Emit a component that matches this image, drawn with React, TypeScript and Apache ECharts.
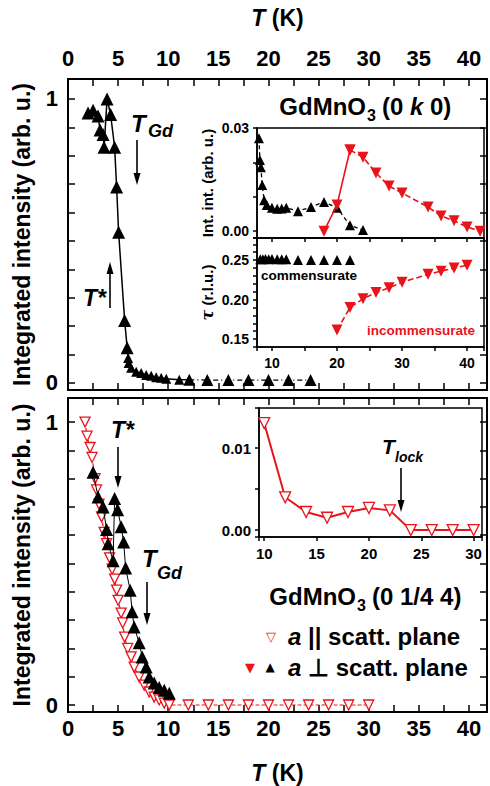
import React, { useEffect, useRef } from 'react';
import * as echarts from 'echarts';

const RED = '#e8141c';
const BLACK = '#000000';
const FONT = '"Liberation Sans", Arial, Helvetica, sans-serif';

// ---------- top panel: GdMnO3 (0 k 0), main plot ----------
const topMainT = [2.0, 2.5, 3.0, 3.2, 3.5, 3.6, 3.9, 4.25, 4.65, 4.85, 5.05, 5.65, 5.9, 6.0, 6.05, 6.3, 6.8, 7.3, 7.8, 8.3, 8.8, 9.3, 9.8, 11.1, 12.1];
const topMainI = [0.95, 0.96, 0.94, 0.89, 0.875, 0.83, 1.0, 0.945, 0.83, 0.69, 0.53, 0.22, 0.124, 0.088, 0.07, 0.053, 0.039, 0.035, 0.028, 0.025, 0.02, 0.018, 0.015, 0.011, 0.011];
const topSparseT = [12.1, 13.9, 16.0, 18.0, 20.0, 22.0, 24.2];
const topSparseI = [0.011, 0.01, 0.01, 0.01, 0.01, 0.01, 0.01];

// ---------- top inset: integrated intensity ----------
const insetBlackT = [8.0, 8.15, 8.3, 8.5, 8.8, 9.2, 10, 10.8, 11.5, 12.2, 14, 16, 18, 20, 22, 24];
const insetBlackI = [0.027, 0.0207, 0.0186, 0.0134, 0.009, 0.0076, 0.0068, 0.0065, 0.0066, 0.0068, 0.0058, 0.007, 0.0085, 0.0068, 0.0017, 0.0003];
const insetRedRiseT = [18, 20, 22];
const insetRedRiseI = [0.0, 0.0076, 0.0236];
const insetRedT = [22, 24, 26, 28, 30, 34, 36, 38, 40, 42];
const insetRedI = [0.0236, 0.0215, 0.0169, 0.0131, 0.0111, 0.007, 0.0044, 0.003, 0.0012, 0.0];

// ---------- top inset: propagation vector tau ----------
const tauBlackT = [8.2, 8.6, 9.0, 9.5, 10, 10.8, 11.5, 12.2, 14, 16, 18, 20, 22];
const tauBlackV = [0.251, 0.251, 0.2515, 0.251, 0.2515, 0.251, 0.251, 0.251, 0.25, 0.25, 0.25, 0.25, 0.25];
const tauRedT = [20, 22, 24, 26, 28, 30, 34, 36, 38, 40];
const tauRedV = [0.1615, 0.19, 0.201, 0.209, 0.215, 0.222, 0.232, 0.236, 0.24, 0.2435];

// ---------- bottom panel: GdMnO3 (0 1/4 4) ----------
const botParT = [1.7, 1.9, 2.2, 2.4, 2.7, 2.85, 3.1, 3.35, 3.6, 3.85, 4.15, 4.4, 4.65, 4.85, 5.0, 5.3, 5.45, 5.65, 5.95, 6.3, 6.6, 7.1, 7.6, 8.1, 8.6, 9.1, 9.6, 10.1, 12, 14, 16, 18, 20, 22, 24, 26, 28, 30];
const botParI = [1.0, 0.95, 0.91, 0.875, 0.8, 0.76, 0.71, 0.665, 0.61, 0.57, 0.52, 0.48, 0.445, 0.406, 0.37, 0.325, 0.29, 0.24, 0.2, 0.17, 0.134, 0.099, 0.07, 0.046, 0.028, 0.018, 0.007, 0.0, 0, 0, 0, 0, 0, 0, 0, 0, 0, 0];
const botPerpT = [2.5, 3.0, 3.5, 3.85, 4.0, 4.5, 4.65, 4.95, 5.3, 5.55, 5.75, 6.2, 6.4, 6.6, 7.1, 7.4, 7.8, 8.1, 8.6, 9.1, 9.6, 10.1];
const botPerpI = [0.823, 0.735, 0.7, 0.62, 0.57, 0.51, 0.73, 0.69, 0.63, 0.576, 0.484, 0.406, 0.33, 0.276, 0.22, 0.17, 0.134, 0.099, 0.078, 0.062, 0.052, 0.042];

// ---------- bottom inset: T_lock ----------
const lockT = [10, 12, 14, 16, 18, 20, 22, 24, 26, 28, 30];
const lockI = [0.01305, 0.004, 0.0022, 0.0015, 0.0022, 0.0027, 0.0024, 0.0, 0.0, 0.0, 0.0];

// ---------- tick labels ----------
const mainXLabels = [0, 5, 10, 15, 20, 25, 30, 35, 40];
const mainYLabels = [0, 1];
const insetIntLabels = [0, 0.03];
const insetTauLabels = [0.15, 0.2, 0.25];
const insetXLabels = [10, 20, 30, 40];
const lockXLabels = [10, 15, 20, 25, 30];
const lockYLabels = [0, 0.01];

const zip = (xs: number[], ys: number[]) => xs.map((x, i) => [x, ys[i]]);

const pick = (vals: number[], digits: number) => (v: number) => {
  const hit = vals.find((a) => Math.abs(a - v) < 1e-9 + Math.abs(a) * 1e-6);
  return hit === undefined ? '' : hit.toFixed(digits);
};

type AxOpt = {
  grid: number; pos: string; min: number; max: number; interval?: number; splitNumber?: number;
  inside: boolean; tickLen: number; lw: number; fs?: number; margin?: number;
  labels?: number[]; digits?: number; name?: any;
};

function axis(o: AxOpt) {
  const a: any = {
    type: 'value', gridIndex: o.grid, position: o.pos, min: o.min, max: o.max,
    splitLine: { show: false },
    axisLine: { show: true, onZero: false, lineStyle: { color: BLACK, width: o.lw } },
    axisTick: { show: true, inside: o.inside, length: o.tickLen, lineStyle: { color: BLACK, width: 1.5 } },
    axisLabel: {
      show: !!o.labels, margin: o.margin ?? 8, color: BLACK, fontFamily: FONT, fontWeight: 'bold',
      fontSize: o.fs ?? 14, showMinLabel: true, showMaxLabel: true,
      formatter: o.labels ? pick(o.labels, o.digits ?? 0) : undefined,
    },
    z: 3,
  };
  if (o.interval !== undefined) a.interval = o.interval;
  if (o.splitNumber !== undefined) a.splitNumber = o.splitNumber;
  if (o.name) Object.assign(a, o.name);
  return a;
}

const mainName = (text: string, gap: number) => ({
  name: text, nameLocation: 'middle', nameGap: gap,
  nameTextStyle: {
    color: BLACK, fontFamily: FONT, fontWeight: 'bold', fontSize: 23,
    rich: { i: { fontFamily: FONT, fontWeight: 'bold', fontStyle: 'italic', fontSize: 23, color: BLACK } },
  },
});

const txt = (x: number, y: number, text: string, extra: any = {}, rich?: any) => ({
  type: 'text', x, y, silent: true, z: 10,
  style: {
    text, fill: BLACK, fontFamily: FONT, fontWeight: 'bold', fontSize: 22,
    align: 'left', verticalAlign: 'middle', textAlign: 'left', textVerticalAlign: 'middle',
    ...(rich ? { rich } : {}), ...extra,
  },
});

const arrow = (x: number, y1: number, y2: number) => {
  const d = y2 > y1 ? 1 : -1;
  return [
    { type: 'line', silent: true, z: 10, shape: { x1: x, y1, x2: x, y2: y2 - d * 8 }, style: { stroke: BLACK, lineWidth: 1.6 } },
    { type: 'polygon', silent: true, z: 10, shape: { points: [[x - 3.5, y2 - d * 12], [x + 3.5, y2 - d * 12], [x, y2]] }, style: { fill: BLACK } },
  ];
};

function buildOption(): any {
  const gridBase = { show: true, backgroundColor: 'transparent', borderColor: BLACK, containLabel: false };
  const grids = [
    { ...gridBase, left: 68, top: 79, width: 422, height: 311, borderWidth: 2 },
    { ...gridBase, left: 68, top: 398, width: 422, height: 314, borderWidth: 2 },
    { ...gridBase, left: 257, top: 128, width: 227, height: 110, borderWidth: 1.5 },
    { ...gridBase, left: 257, top: 238, width: 227, height: 109, borderWidth: 1.5 },
    { ...gridBase, left: 259, top: 408, width: 223, height: 129, borderWidth: 1.5 },
  ];

  const xAxes = [
    axis({ grid: 0, pos: 'bottom', min: 0, max: 41.8, interval: 2.5, inside: true, tickLen: 7, lw: 2 }),
    axis({ grid: 0, pos: 'top', min: 0, max: 41.8, interval: 2.5, inside: true, tickLen: 7, lw: 2, fs: 22, margin: 10, labels: mainXLabels, name: mainName('{i|T} (K)', 50) }),
    axis({ grid: 1, pos: 'bottom', min: 0, max: 41.8, interval: 2.5, inside: true, tickLen: 7, lw: 2, fs: 22, margin: 5, labels: mainXLabels, name: mainName('{i|T} (K)', 49) }),
    axis({ grid: 1, pos: 'top', min: 0, max: 41.8, interval: 2.5, inside: true, tickLen: 7, lw: 2 }),
    axis({ grid: 2, pos: 'bottom', min: 7.7, max: 42.6, splitNumber: 7, inside: false, tickLen: 4, lw: 1.5 }),
    axis({ grid: 3, pos: 'bottom', min: 7.7, max: 42.6, splitNumber: 7, inside: false, tickLen: 4, lw: 1.5, fs: 14, margin: 9, labels: insetXLabels }),
    axis({ grid: 4, pos: 'bottom', min: 9.5, max: 30.8, splitNumber: 4, inside: false, tickLen: 4, lw: 1.5, fs: 15, margin: 9, labels: lockXLabels }),
  ];
  const yAxes = [
    axis({ grid: 0, pos: 'left', min: -0.025, max: 1.07, splitNumber: 11, inside: true, tickLen: 7, lw: 2, fs: 22, margin: 10, labels: mainYLabels, name: mainName('Integrated intensity (arb. u.)', 35) }),
    axis({ grid: 0, pos: 'right', min: -0.025, max: 1.07, splitNumber: 11, inside: true, tickLen: 7, lw: 2 }),
    axis({ grid: 1, pos: 'left', min: -0.0247, max: 1.085, splitNumber: 11, inside: true, tickLen: 7, lw: 2, fs: 22, margin: 10, labels: mainYLabels, name: mainName('Integrated intensity (arb. u.)', 35) }),
    axis({ grid: 1, pos: 'right', min: -0.0247, max: 1.085, splitNumber: 11, inside: true, tickLen: 7, lw: 2 }),
    axis({
      grid: 2, pos: 'left', min: -0.002, max: 0.03, splitNumber: 3, inside: false, tickLen: 4, lw: 1.5, fs: 14, margin: 8, labels: insetIntLabels, digits: 2,
      name: { name: 'Int. int. (arb. u.)', nameLocation: 'middle', nameGap: 42, nameTextStyle: { color: BLACK, fontFamily: FONT, fontWeight: 'bold', fontSize: 15 } },
    }),
    axis({
      grid: 3, pos: 'left', min: 0.14, max: 0.278, interval: 0.01, inside: false, tickLen: 4, lw: 1.5, fs: 14, margin: 8, labels: insetTauLabels, digits: 2,
      name: {
        name: '{t|τ} (r.l.u.)', nameLocation: 'middle', nameGap: 42,
        nameTextStyle: { color: BLACK, fontFamily: FONT, fontWeight: 'bold', fontSize: 15, rich: { t: { fontFamily: '"DejaVu Serif", serif', fontStyle: 'italic', fontSize: 16, color: BLACK } } },
      },
    }),
    axis({ grid: 4, pos: 'left', min: -0.00085, max: 0.0149, splitNumber: 3, inside: false, tickLen: 4, lw: 1.5, fs: 15, margin: 8, labels: lockYLabels, digits: 2 }),
  ];

  const series: any[] = [
    // top main
    {
      type: 'line', xAxisIndex: 0, yAxisIndex: 0, data: zip(topMainT, topMainI), symbol: 'triangle',
      symbolSize: (v: number[]) => (v[0] < 5.95 ? 13 : 10), itemStyle: { color: BLACK }, lineStyle: { color: BLACK, width: 1.5 }, z: 4,
    },
    {
      type: 'line', xAxisIndex: 0, yAxisIndex: 0, data: zip(topSparseT, topSparseI), symbol: 'triangle', symbolSize: 12,
      itemStyle: { color: BLACK }, lineStyle: { color: BLACK, width: 1.3, type: [5, 3, 1, 3] }, z: 4,
    },
    // top inset intensity
    {
      type: 'line', xAxisIndex: 4, yAxisIndex: 4, data: zip(insetBlackT, insetBlackI), symbol: 'triangle', symbolSize: 10,
      itemStyle: { color: BLACK }, lineStyle: { color: BLACK, width: 1.3, type: [4, 3] }, z: 4,
    },
    {
      type: 'line', xAxisIndex: 4, yAxisIndex: 4, data: zip(insetRedRiseT, insetRedRiseI), symbol: 'triangle', symbolRotate: 180, symbolSize: 11,
      itemStyle: { color: RED }, lineStyle: { color: RED, width: 1.6 }, z: 5,
    },
    {
      type: 'line', xAxisIndex: 4, yAxisIndex: 4, data: zip(insetRedT, insetRedI), symbol: 'triangle', symbolRotate: 180, symbolSize: 11,
      itemStyle: { color: RED }, lineStyle: { color: RED, width: 1.6, type: [6, 3] }, z: 5,
    },
    // top inset tau
    {
      type: 'line', xAxisIndex: 5, yAxisIndex: 5, data: zip(tauBlackT, tauBlackV), symbol: 'triangle', symbolSize: 10,
      itemStyle: { color: BLACK }, lineStyle: { width: 0 }, z: 4,
    },
    {
      type: 'line', xAxisIndex: 5, yAxisIndex: 5, data: zip(tauRedT, tauRedV), symbol: 'triangle', symbolRotate: 180, symbolSize: 11,
      itemStyle: { color: RED }, lineStyle: { color: RED, width: 1.6, type: [6, 3] }, z: 5,
    },
    // bottom main
    {
      type: 'line', xAxisIndex: 2, yAxisIndex: 2, data: zip(botParT, botParI), symbol: 'triangle', symbolRotate: 180, symbolSize: 10,
      itemStyle: { color: '#ffffff', borderColor: RED, borderWidth: 1.3 }, lineStyle: { color: RED, width: 1.2, type: [4, 2] }, z: 4,
    },
    {
      type: 'line', xAxisIndex: 2, yAxisIndex: 2, data: zip(botPerpT, botPerpI), symbol: 'triangle', symbolSize: 13,
      itemStyle: { color: BLACK }, lineStyle: { color: BLACK, width: 1 }, z: 5,
    },
    // bottom inset
    {
      type: 'line', xAxisIndex: 6, yAxisIndex: 6, data: zip(lockT, lockI), symbol: 'triangle', symbolRotate: 180, symbolSize: 11,
      itemStyle: { color: '#ffffff', borderColor: RED, borderWidth: 1.3 }, lineStyle: { color: RED, width: 2 }, z: 5,
    },
  ];

  const italicBold = { fontStyle: 'italic', fontWeight: 'bold', fontFamily: FONT, fill: BLACK };
  const right = { align: 'right', textAlign: 'right' };
  const graphic: any[] = [
    // titles
    txt(366, 106, 'GdMnO', { fontSize: 24, ...right }),
    txt(367, 115, '3', { fontSize: 16 }),
    txt(382, 106, '(0 {i|k} 0)', { fontSize: 24 }, { i: { fontFamily: FONT, fontWeight: 'bold', fontStyle: 'italic', fontSize: 24, color: BLACK } }),
    txt(356, 596, 'GdMnO', { fontSize: 24, ...right }),
    txt(357, 605, '3', { fontSize: 16 }),
    txt(372, 596, '(0 1/4 4)', { fontSize: 24 }),
    // T_Gd top
    txt(131, 123, 'T', { ...italicBold, fontSize: 24 }),
    txt(148, 131, 'Gd', { ...italicBold, fontSize: 18 }),
    ...arrow(137, 140, 185),
    // T* top
    txt(83, 298, 'T*', { ...italicBold, fontSize: 23 }),
    ...arrow(110, 308, 262),
    // T* bottom
    txt(111, 430, 'T*', { ...italicBold, fontSize: 23 }),
    ...arrow(118, 447, 488),
    // T_Gd bottom
    txt(142, 558, 'T', { ...italicBold, fontSize: 24 }),
    txt(157, 573, 'Gd', { ...italicBold, fontSize: 18 }),
    ...arrow(147, 582, 625),
    // T_lock
    txt(382, 446, 'T', { ...italicBold, fontSize: 21 }),
    txt(395, 457, 'lock', { ...italicBold, fontSize: 14 }),
    ...arrow(401, 468, 512),
    // inset labels
    txt(261, 275, 'commensurate', { fontSize: 13.5 }),
    txt(367, 330, 'incommensurate', { fontSize: 13.5, fill: RED }),
    // legend
    txt(271, 636, '▽', { fontFamily: '"DejaVu Sans", sans-serif', fontWeight: 'normal', fontSize: 13, fill: RED, align: 'center', textAlign: 'center' }),
    txt(288, 636, '{i|a} || scatt. plane', { fontSize: 24 }, { i: { ...italicBold, fontSize: 24, color: BLACK } }),
    txt(250, 667, '▼', { fontFamily: '"DejaVu Sans", sans-serif', fontWeight: 'normal', fontSize: 13, fill: RED, align: 'center', textAlign: 'center' }),
    txt(270, 667, '▲', { fontFamily: '"DejaVu Sans", sans-serif', fontWeight: 'normal', fontSize: 12, fill: BLACK, align: 'center', textAlign: 'center' }),
    txt(288, 667, '{i|a} ⊥ scatt. plane', { fontSize: 24 }, { i: { ...italicBold, fontSize: 24, color: BLACK } }),
  ];

  return {
    animation: false,
    backgroundColor: '#ffffff',
    grid: grids,
    xAxis: xAxes,
    yAxis: yAxes,
    series,
    graphic,
  };
}

export default function App() {
  const ref = useRef<HTMLDivElement>(null);
  useEffect(() => {
    if (!ref.current) return;
    const chart = echarts.init(ref.current, undefined, { renderer: 'svg' });
    chart.setOption(buildOption());
    return () => chart.dispose();
  }, []);
  return <div ref={ref} style={{ position: 'absolute', left: 0, top: 0, width: 490, height: 786, background: '#fff' }} />;
}
